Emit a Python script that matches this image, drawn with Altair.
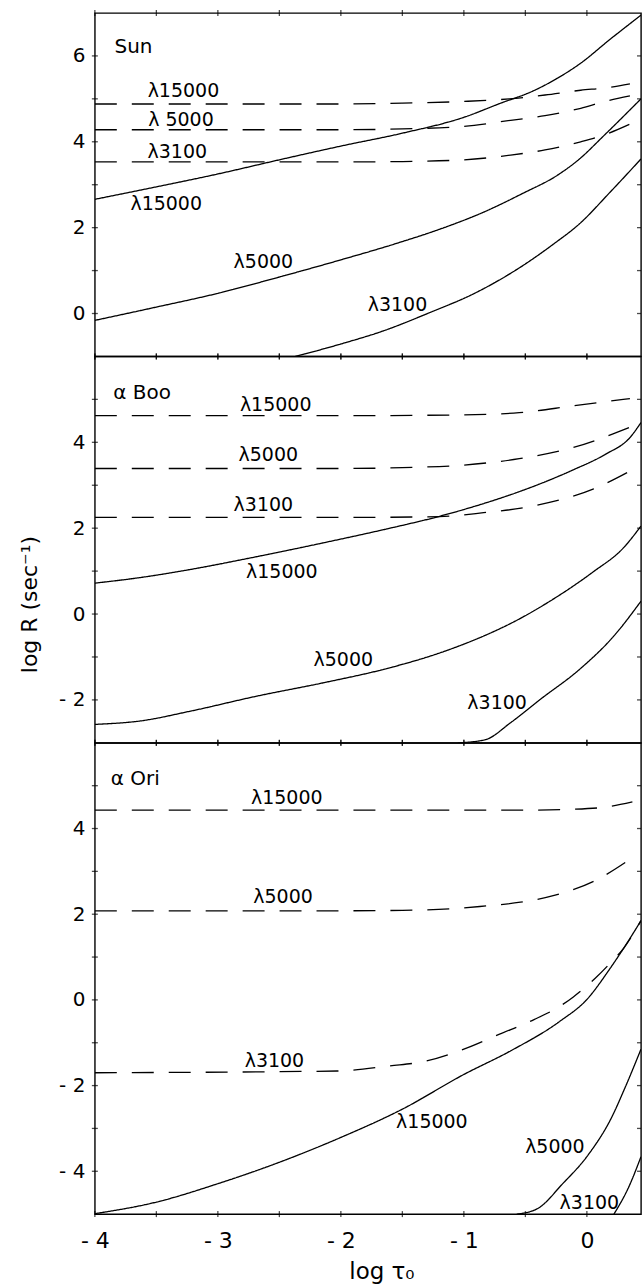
import altair as alt
import pandas as pd

FONT = "DejaVu Sans"
X_MIN, X_MAX = -4.0, 0.44
PLOT_W = 547

X_LABEL_VALUES = [-4, -3, -2, -1, 0]
X_MINOR_TICKS = [-4, -3.5, -3, -2.5, -2, -1.5, -1, -0.5, 0]

# ---------------- Sun ----------------
SUN_YMIN, SUN_YMAX = -1, 7
SUN_YLABELS = [0, 2, 4, 6]
SUN_D15000_X = [-4, -2, -1.5, -1, -0.63, -0.34, -0.05, 0.16, 0.35]
SUN_D15000_Y = [4.88, 4.88, 4.90, 4.94, 5.00, 5.09, 5.20, 5.26, 5.35]
SUN_D5000_X = [-4, -2, -1.5, -1, -0.62, -0.34, -0.05, 0.16, 0.35]
SUN_D5000_Y = [4.28, 4.28, 4.30, 4.36, 4.50, 4.61, 4.78, 4.95, 5.07]
SUN_D3100_X = [-4, -2, -1.5, -1, -0.62, -0.34, -0.05, 0.16, 0.35]
SUN_D3100_Y = [3.53, 3.53, 3.54, 3.58, 3.69, 3.81, 4.00, 4.18, 4.41]
SUN_S15000_X = [-4, -3.5, -3, -2.5, -2, -1.5, -1, -0.7, -0.44, -0.24, -0.06, 0.19, 0.44]
SUN_S15000_Y = [2.66, 2.95, 3.25, 3.58, 3.90, 4.20, 4.57, 4.90, 5.18, 5.48, 5.81, 6.39, 6.95]
SUN_S5000_X = [-4, -3.5, -3, -2.5, -2, -1.54, -1.19, -0.84, -0.52, -0.24, -0.06, 0.13, 0.44]
SUN_S5000_Y = [-0.16, 0.15, 0.47, 0.85, 1.25, 1.64, 1.97, 2.36, 2.80, 3.22, 3.60, 4.12, 5.0]
SUN_S3100_X = [-2.37, -2.0, -1.65, -1.27, -0.92, -0.54, -0.27, -0.06, 0.19, 0.44]
SUN_S3100_Y = [-1.0, -0.71, -0.40, 0.03, 0.46, 1.08, 1.62, 2.09, 2.83, 3.6]
SUN_LABEL_X = [-3.28, -3.30, -3.33, -3.42, -2.63, -1.54]
SUN_LABEL_Y = [5.18, 4.51, 3.76, 2.55, 1.20, 0.19]
SUN_LABEL_TEXT = ["λ15000", "λ 5000", "λ3100", "λ15000", "λ5000", "λ3100"]
SUN_NAME = ["Sun"]
SUN_NAME_X = [-3.84]
SUN_NAME_Y = [6.21]

# ---------------- alpha Boo ----------------
BOO_YMIN, BOO_YMAX = -3, 6
BOO_YLABELS = [-2, 0, 2, 4]
BOO_D15000_X = [-4, -2, -1, -0.55, -0.11, 0.35]
BOO_D15000_Y = [4.62, 4.62, 4.64, 4.69, 4.85, 5.02]
BOO_D5000_X = [-4, -2, -1.5, -1.0, -0.55, -0.11, 0.35]
BOO_D5000_Y = [3.39, 3.39, 3.41, 3.47, 3.62, 3.88, 4.35]
BOO_D3100_X = [-4, -2, -1.2, -0.84, -0.43, 0.05, 0.35]
BOO_D3100_Y = [2.25, 2.25, 2.27, 2.36, 2.52, 2.91, 3.33]
BOO_S15000_X = [-4, -3.63, -3.22, -2.73, -2.14, -1.6, -1.22, -0.97, -0.65, -0.41, -0.11, 0.15, 0.35, 0.44]
BOO_S15000_Y = [0.72, 0.85, 1.04, 1.31, 1.66, 2.00, 2.26, 2.46, 2.75, 3.00, 3.36, 3.72, 4.11, 4.46]
BOO_S5000_X = [-4, -3.63, -3.22, -2.68, -2.14, -1.6, -1.19, -0.79, -0.62, -0.30, 0.05, 0.30, 0.44]
BOO_S5000_Y = [-2.57, -2.49, -2.26, -1.91, -1.60, -1.25, -0.90, -0.45, -0.22, 0.30, 0.98, 1.55, 2.05]
BOO_S3100_X = [-1.05, -0.83, -0.62, -0.38, -0.06, 0.22, 0.44]
BOO_S3100_Y = [-3.0, -2.93, -2.53, -1.99, -1.29, -0.51, 0.3]
BOO_LABEL_X = [-2.53, -2.59, -2.63, -2.48, -1.98, -0.73]
BOO_LABEL_Y = [4.86, 3.70, 2.53, 0.98, -1.08, -2.07]
BOO_LABEL_TEXT = ["λ15000", "λ5000", "λ3100", "λ15000", "λ5000", "λ3100"]
BOO_NAME = ["α Boo"]
BOO_NAME_X = [-3.85]
BOO_NAME_Y = [5.16]

# ---------------- alpha Ori ----------------
ORI_YMIN, ORI_YMAX = -5, 6
ORI_YLABELS = [-4, -2, 0, 2, 4]
ORI_D15000_X = [-4, -1, -0.5, -0.11, 0.15, 0.37]
ORI_D15000_Y = [4.43, 4.43, 4.43, 4.45, 4.50, 4.62]
ORI_D5000_X = [-4, -2, -1.5, -1.04, -0.87, -0.54, -0.25, 0.05, 0.36]
ORI_D5000_Y = [2.08, 2.08, 2.09, 2.14, 2.18, 2.28, 2.45, 2.76, 3.30]
ORI_D3100_X = [-4, -2.03, -1.6, -1.31, -1.0, -0.71, -0.43, -0.22, -0.11, 0.07, 0.19, 0.30, 0.44]
ORI_D3100_Y = [-1.70, -1.66, -1.54, -1.43, -1.15, -0.80, -0.46, -0.15, 0.07, 0.51, 0.86, 1.21, 1.85]
ORI_S15000_X = [-4, -3.5, -3.0, -2.5, -2.0, -1.5, -1.0, -0.62, -0.22, 0.0, 0.19, 0.30, 0.44]
ORI_S15000_Y = [-4.99, -4.72, -4.29, -3.79, -3.21, -2.55, -1.74, -1.19, -0.50, 0.01, 0.74, 1.21, 1.85]
ORI_S5000_X = [-0.57, -0.4, -0.2, 0.01, 0.2, 0.31, 0.44]
ORI_S5000_Y = [-5.0, -4.87, -4.30, -3.62, -2.75, -2.05, -1.15]
ORI_S3100_X = [0.22, 0.34, 0.44]
ORI_S3100_Y = [-5.0, -4.37, -3.66]
ORI_LABEL_X = [-2.44, -2.47, -2.54, -1.26, -0.26, 0.02]
ORI_LABEL_Y = [4.71, 2.41, -1.43, -2.86, -3.44, -4.74]
ORI_LABEL_TEXT = ["λ15000", "λ5000", "λ3100", "λ15000", "λ5000", "λ3100"]
ORI_NAME = ["α Ori"]
ORI_NAME_X = [-3.87]
ORI_NAME_Y = [5.16]

LABEL_EXPR = "datum.value < 0 ? '- ' + abs(datum.value) : '' + datum.value"


def lines_df(series):
    rows = []
    for name, style, xs, ys in series:
        for xv, yv in zip(xs, ys):
            rows.append({"series": name, "style": style, "x": xv, "y": yv})
    return pd.DataFrame(rows)


def make_panel(series, lab_x, lab_y, lab_t, name, name_x, name_y,
               ymin, ymax, ylabels, height, x_axis, y_title=None):
    xs = alt.Scale(domain=[X_MIN, X_MAX], nice=False, zero=False)
    ys = alt.Scale(domain=[ymin, ymax], nice=False, zero=False)
    common = dict(values=ylabels, labelExpr=LABEL_EXPR, ticks=False, tickSize=0,
                  domain=False, grid=False, labelPadding=10, labelFlush=False,
                  labelOverlap=False, labelFont=FONT, labelFontSize=20,
                  labelColor="black")
    if y_title:
        y_axis = alt.Axis(title=y_title, titleX=-65, titleY=248,
                          titleAngle=270, titleAlign="center",
                          titleBaseline="middle", titleFont=FONT,
                          titleFontSize=22, titleFontWeight="normal",
                          titleColor="black", **common)
    else:
        y_axis = alt.Axis(title=None, **common)

    def X():
        return alt.X("x:Q", scale=xs, axis=x_axis)

    def Y():
        return alt.Y("y:Q", scale=ys, axis=y_axis)

    line = alt.Chart(lines_df(series)).mark_line(
        interpolate="monotone", clip=True, color="black", strokeWidth=1.3
    ).encode(
        x=X(), y=Y(), detail="series:N",
        strokeDash=alt.StrokeDash("style:N", legend=None,
                                  scale=alt.Scale(domain=["solid", "dashed"],
                                                  range=[[1, 0], [22, 15]])),
    )
    labels = alt.Chart(pd.DataFrame({"x": lab_x, "y": lab_y, "t": lab_t})).mark_text(
        font=FONT, fontSize=19, color="black", align="center", baseline="middle"
    ).encode(x=X(), y=Y(), text="t:N")
    title = alt.Chart(pd.DataFrame({"x": name_x, "y": name_y, "t": name})).mark_text(
        font=FONT, fontSize=20, color="black", align="left", baseline="middle"
    ).encode(x=X(), y=Y(), text="t:N")

    n = len(X_MINOR_TICKS)
    xt = pd.DataFrame({"x": X_MINOR_TICKS * 2, "y": [ymin] * n + [ymax] * n})
    ints = list(range(ymin + 1, ymax))
    yt = pd.DataFrame({"x": [X_MIN] * len(ints), "y": ints})
    rt = pd.DataFrame({"x": [X_MAX] * len(ints), "y": ints})
    xticks = alt.Chart(xt).mark_tick(orient="vertical", size=6, thickness=1.3,
                                     color="black").encode(x=X(), y=Y())
    yticks = alt.Chart(yt).mark_tick(orient="horizontal", size=6, thickness=1.3,
                                     color="black").encode(x=X(), y=Y())
    rticks = alt.Chart(rt).mark_tick(orient="horizontal", size=4, thickness=1.3,
                                     xOffset=-2, color="black").encode(x=X(), y=Y())
    return alt.layer(line, labels, title, xticks, yticks, rticks).properties(
        width=PLOT_W, height=height)


sun = make_panel(
    [("d15000", "dashed", SUN_D15000_X, SUN_D15000_Y),
     ("d5000", "dashed", SUN_D5000_X, SUN_D5000_Y),
     ("d3100", "dashed", SUN_D3100_X, SUN_D3100_Y),
     ("s15000", "solid", SUN_S15000_X, SUN_S15000_Y),
     ("s5000", "solid", SUN_S5000_X, SUN_S5000_Y),
     ("s3100", "solid", SUN_S3100_X, SUN_S3100_Y)],
    SUN_LABEL_X, SUN_LABEL_Y, SUN_LABEL_TEXT, SUN_NAME, SUN_NAME_X, SUN_NAME_Y,
    SUN_YMIN, SUN_YMAX, SUN_YLABELS, 344, None)

boo = make_panel(
    [("d15000", "dashed", BOO_D15000_X, BOO_D15000_Y),
     ("d5000", "dashed", BOO_D5000_X, BOO_D5000_Y),
     ("d3100", "dashed", BOO_D3100_X, BOO_D3100_Y),
     ("s15000", "solid", BOO_S15000_X, BOO_S15000_Y),
     ("s5000", "solid", BOO_S5000_X, BOO_S5000_Y),
     ("s3100", "solid", BOO_S3100_X, BOO_S3100_Y)],
    BOO_LABEL_X, BOO_LABEL_Y, BOO_LABEL_TEXT, BOO_NAME, BOO_NAME_X, BOO_NAME_Y,
    BOO_YMIN, BOO_YMAX, BOO_YLABELS, 387, None, y_title="log R (sec⁻¹)")

x_axis = alt.Axis(values=X_LABEL_VALUES, labelExpr=LABEL_EXPR, ticks=False,
                  tickSize=0, domain=False, grid=False, labelPadding=26,
                  labelBaseline="middle", labelFlush=False, labelOverlap=False,
                  labelFont=FONT, labelFontSize=22, labelColor="black",
                  title="log τ₀", titleX=287, titleY=57, titleAlign="center",
                  titleBaseline="middle", titleFont=FONT, titleFontSize=23,
                  titleFontWeight="normal", titleColor="black")

ori = make_panel(
    [("d15000", "dashed", ORI_D15000_X, ORI_D15000_Y),
     ("d5000", "dashed", ORI_D5000_X, ORI_D5000_Y),
     ("d3100", "dashed", ORI_D3100_X, ORI_D3100_Y),
     ("s15000", "solid", ORI_S15000_X, ORI_S15000_Y),
     ("s5000", "solid", ORI_S5000_X, ORI_S5000_Y),
     ("s3100", "solid", ORI_S3100_X, ORI_S3100_Y)],
    ORI_LABEL_X, ORI_LABEL_Y, ORI_LABEL_TEXT, ORI_NAME, ORI_NAME_X, ORI_NAME_Y,
    ORI_YMIN, ORI_YMAX, ORI_YLABELS, 472, x_axis)

chart = alt.vconcat(sun, boo, ori, spacing=0, bounds="flush").properties(
    padding={"left": 18, "top": 8, "right": 0, "bottom": 2},
    background="white",
).configure_view(stroke="black", strokeWidth=1.4)

chart.save("out.html", embed_options={"renderer": "svg", "actions": False})
